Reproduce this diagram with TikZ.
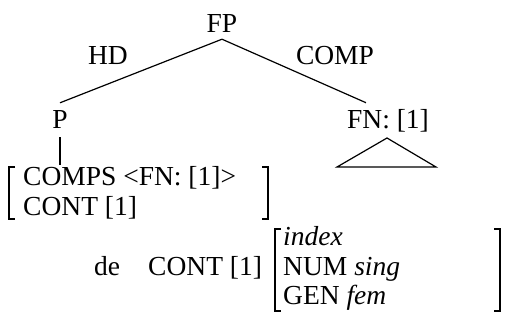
\documentclass[tikz,border=0pt]{standalone}
\usepackage{fontspec}
\setmainfont{Liberation Serif}
\begin{document}
\begin{tikzpicture}[x=1pt,y=-1pt,
  lbl/.style={anchor=base,inner sep=0pt,font=\fontsize{27.5}{33}\selectfont},
  lblw/.style={anchor=base west,inner sep=0pt,font=\fontsize{27.5}{33}\selectfont},
  edge/.style={line width=1.2pt},
  brk/.style={line width=1.3pt}]
\useasboundingbox (0,0) rectangle (506,322);
% tree labels
\node[lbl] (FP) at (222,32) {FP};
\node[lbl] (HD) at (108,64) {HD};
\node[lbl] (COMP) at (335,64) {COMP};
\node[lbl] (P) at (60,128) {P};
\node[lbl] (FN) at (388,128) {FN: [1]};
% edges
\draw[edge] ([yshift=-7pt]FP.south) -- ([yshift=7pt]P.north);
\draw[edge] ([yshift=-7pt]FP.south) -- ([xshift=-22pt,yshift=6pt]FN.north);
\coordinate (avmtop) at (60,165);
\draw[edge] ([yshift=-9pt]P.south) -- (avmtop);
% triangle
\coordinate (ta) at (387,138);
\coordinate (tl) at (337,167);
\coordinate (tr) at (436,167);
\draw[edge,line join=miter] (tl) -- (ta) -- (tr) -- cycle;
% first AVM
\node[lblw] (comps) at (23,185) {COMPS <FN: [1]>};
\node[lblw] (cont1) at (23,215) {CONT [1]};
\draw[brk] (15,167) -- (9,167) -- (9,219) -- (15,219);
\draw[brk] (262,167) -- (268,167) -- (268,219) -- (262,219);
% lower line
\node[lbl] (de) at (107,275) {de};
\node[lblw] (cont2) at (148,275) {CONT [1]};
\node[lblw] (idx) at (283,245) {\itshape index};
\node[lblw] (num) at (283,275) {NUM \itshape sing};
\node[lblw] (gen) at (283,304) {GEN \itshape fem};
\draw[brk] (281,229) -- (275,229) -- (275,311) -- (281,311);
\draw[brk] (494,229) -- (500,229) -- (500,311) -- (494,311);
\end{tikzpicture}
\end{document}
